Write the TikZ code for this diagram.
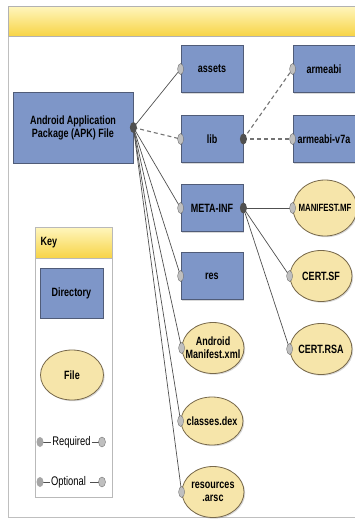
\documentclass[tikz,border=0pt]{standalone}
\usepackage{fontspec}
\setmainfont{Liberation Sans}[FakeStretch=0.75]
\usetikzlibrary{shapes.geometric,shadows}
\definecolor{dirblue}{RGB}{126,150,200}
\definecolor{dirline}{RGB}{80,92,120}
\definecolor{filefill}{RGB}{246,229,170}
\definecolor{fileline}{RGB}{120,105,75}
\definecolor{bandtop}{RGB}{255,246,190}
\definecolor{bandbot}{RGB}{247,212,70}
\definecolor{linkgray}{RGB}{80,80,80}
\begin{document}
\begin{tikzpicture}[x=1pt,y=-1pt,
    dir/.style={draw=dirline, fill=dirblue, line width=0.8pt, minimum width=62pt,
      minimum height=47pt, inner sep=0pt, align=center,
      font=\bfseries\fontsize{12}{13}\selectfont,
      drop shadow={shadow xshift=1.2pt, shadow yshift=-1.2pt, opacity=0.3}},
    file/.style={ellipse, draw=fileline, fill=filefill, line width=0.8pt,
      minimum width=62pt, minimum height=51pt, inner xsep=-12pt, inner ysep=-6pt,
      align=center, font=\bfseries\fontsize{12}{13}\selectfont,
      drop shadow={shadow xshift=1.2pt, shadow yshift=-1.2pt, opacity=0.3}},
    req/.style={draw=linkgray, line width=0.7pt},
    opt/.style={draw=linkgray!80, line width=1.1pt, dash pattern=on 4pt off 3pt},
    pdot/.style={fill=linkgray},
    cdot/.style={fill=gray!50, draw=gray!75!black, line width=0.3pt},
    keytext/.style={inner sep=1pt, font=\fontsize{12.5}{13}\selectfont}]
    \useasboundingbox (0,0) rectangle (355,523);
    % 外框和标题栏
    \draw[gray!50, line width=0.8pt] (8,36) -- (8,517) -- (355,517);
    \shade[top color=bandtop, bottom color=bandbot, draw=gray!60] (8,6) rectangle (356,36);
    % 目录
    \node[dir, minimum width=120pt, minimum height=71pt] (apk) at (73,127.5)
      {Android Application\\Package (APK) File};
    \node[dir] (assets) at (212,69) {assets};
    \node[dir] (lib) at (212,139) {lib};
    \node[dir] (meta) at (212,208) {META-INF};
    \node[dir] (res) at (212,276) {res};
    \node[dir] (armeabi) at (324,69) {armeabi};
    \node[dir] (armv7) at (324,139) {armeabi-v7a};
    % 文件
    \node[file, minimum width=64pt, minimum height=56pt, font=\bfseries\fontsize{10.5}{11}\selectfont]
      (manifestmf) at (325,208) {MANIFEST.MF};
    \node[file] (certsf) at (321,276) {CERT.SF};
    \node[file] (certrsa) at (321,349) {CERT.RSA};
    \node[file] (amxml) at (213,348) {Android\\Manifest.xml};
    \node[file, minimum height=48pt] (classes) at (212,421) {classes.dex};
    \node[file] (arsc) at (213,492) {resources\\.arsc};
    % 连线
    \foreach \c in {assets,meta,res,amxml,classes,arsc}
      \draw[req] (apk.east) -- (\c.west);
    \draw[opt] (apk.east) -- (lib.west);
    \draw[opt] (lib.east) -- (armeabi.west);
    \draw[opt] (lib.east) -- (armv7.west);
    \foreach \c in {manifestmf,certsf,certrsa}
      \draw[req] (meta.east) -- (\c.west);
    % 连接点
    \foreach \p in {apk,lib,meta}
      \path[pdot] (\p.east) ellipse (3.5 and 5.5);
    \foreach \c in {assets,lib,meta,res,amxml,classes,arsc,armeabi,armv7,manifestmf,certsf,certrsa}
      \path[cdot] (\c.west) ellipse (3 and 5.5);
    % 图例
    \draw[gray!55, fill=white, line width=0.8pt] (35,227) rectangle (112,497);
    \shade[top color=bandtop, bottom color=bandbot, draw=gray!55] (35,227) rectangle (112,258);
    \node[anchor=west, font=\bfseries\fontsize{12}{13}\selectfont] (keylbl) at (37,243) {Key};
    \node[dir, minimum width=63pt, minimum height=50pt] (keydir) at (71.5,293) {Directory};
    \node[file, minimum width=63pt, minimum height=50pt] (keyfile) at (72,375) {File};
    \coordinate (reqL) at (40,442);
    \coordinate (reqR) at (102,442);
    \node[keytext] (reqlbl) at (71.5,442) {Required};
    \draw[req] (reqL) -- (reqlbl.west);
    \draw[req] (reqlbl.east) -- (reqR);
    \coordinate (optL) at (40,482);
    \coordinate (optR) at (102,482);
    \node[keytext] (optlbl) at (68.5,482) {Optional};
    \draw[req] (optL) -- (optlbl.west);
    \draw[req] ([xshift=3pt]optlbl.east) -- (optR);
    \path[pdot, fill=gray!70] (reqL) ellipse (3.5 and 5);
    \path[cdot] (reqR) ellipse (3.5 and 5);
    \path[pdot, fill=gray!70] (optL) ellipse (3.5 and 5);
    \path[cdot] (optR) ellipse (3.5 and 5);
\end{tikzpicture}
\end{document}
